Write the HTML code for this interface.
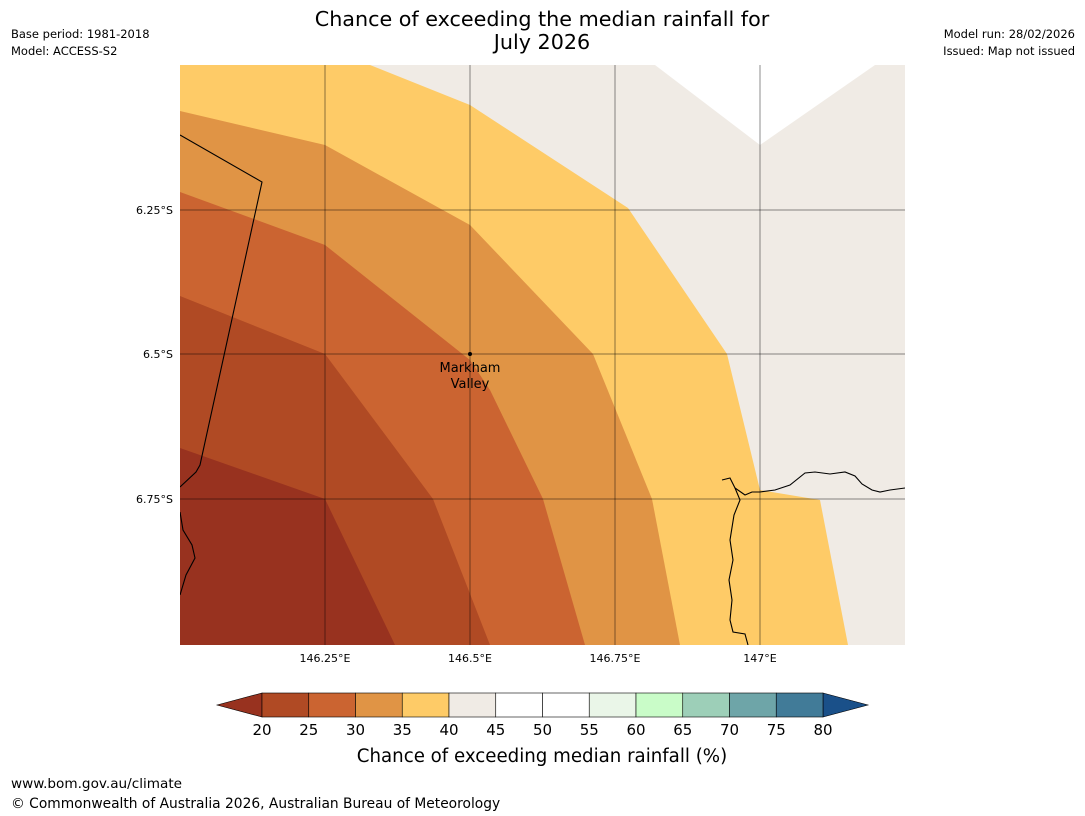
<!DOCTYPE html>
<html><head><meta charset="utf-8"><style>
body{margin:0;background:#fff;width:1085px;height:816px;overflow:hidden;font-family:"Liberation Sans","DejaVu Sans",sans-serif}
svg{position:absolute;left:0;top:0}
</style></head><body>
<svg width="1085" height="816" font-family="DejaVu Sans, Liberation Sans, sans-serif">
<text x="542" y="26" font-size="20.7" text-anchor="middle">Chance of exceeding the median rainfall for</text>
<text x="542" y="49" font-size="20.7" text-anchor="middle">July 2026</text>
<text x="11" y="38" font-size="11.5">Base period: 1981-2018</text>
<text x="11" y="55" font-size="11.5">Model: ACCESS-S2</text>
<text x="1075" y="38" font-size="11.5" text-anchor="end">Model run: 28/02/2026</text>
<text x="1075" y="55" font-size="11.5" text-anchor="end">Issued: Map not issued</text>
<defs><clipPath id="mc"><rect x="180" y="65" width="725" height="580"/></clipPath></defs>
<g clip-path="url(#mc)">
<rect x="180" y="65" width="725" height="580" fill="#f0ebe5"/>
<polygon points="655,65 760,145 875,65" fill="#fff"/>
<polygon points="170,65 370,65 470,105 628,208 727,354 760,490 820,500 848,645 170,645" fill="#fecb67"/>
<polygon points="170,109 180,111 325,145 470,225 593,354 652,499 680,645 170,645" fill="#e09445"/>
<polygon points="170,189 180,192 325,245 470,360 490,390 543,499 585,645 170,645" fill="#cb6431"/>
<polygon points="170,292 180,296 325,354 433,499 490,645 170,645" fill="#b04a24"/>
<polygon points="170,445 180,448 325,499 395,645 170,645" fill="#98321f"/>
<g stroke="#000" stroke-opacity="0.45" stroke-width="1">
<line x1="325" y1="65" x2="325" y2="645"/><line x1="470" y1="65" x2="470" y2="645"/><line x1="615" y1="65" x2="615" y2="645"/><line x1="760" y1="65" x2="760" y2="645"/>
<line x1="180" y1="210" x2="905" y2="210"/><line x1="180" y1="354" x2="905" y2="354"/><line x1="180" y1="499" x2="905" y2="499"/>
</g>
<g fill="none" stroke="#000" stroke-width="1.1">
<polyline points="180,135 262,182 200,465 196,472 180,487"/>
<polyline points="180,512 183,530 192,545 195,558 186,575 180,595"/>
<polyline points="722,480 730,478 735,488 745,495 752,492 760,492 775,490 790,485 805,473 815,472 830,474 845,472 855,476 862,484 872,490 880,492 890,490 905,488"/>
<polyline points="735,488 740,500 734,515 730,540 733,560 729,580 732,600 730,620 733,632 745,634 748,645"/>
</g>
<circle cx="470" cy="354" r="2" fill="#000"/>
<text x="470" y="372" font-size="13" text-anchor="middle">Markham</text>
<text x="470" y="388" font-size="13" text-anchor="middle">Valley</text>
</g>
<g font-size="11">
<text x="173" y="214" text-anchor="end">6.25°S</text>
<text x="173" y="358" text-anchor="end">6.5°S</text>
<text x="173" y="503" text-anchor="end">6.75°S</text>
<text x="325" y="662" text-anchor="middle">146.25°E</text>
<text x="470" y="662" text-anchor="middle">146.5°E</text>
<text x="615" y="662" text-anchor="middle">146.75°E</text>
<text x="760" y="662" text-anchor="middle">147°E</text>
</g>
<g stroke="#000" stroke-width="0.6">
<polygon points="217,705 262,693 262,717" fill="#98321f"/>
<polygon points="823,693 868,705 823,717" fill="#1a5089"/>
<rect x="262.0" y="693" width="46.75" height="24" fill="#b04a24"/>
<rect x="308.75" y="693" width="46.75" height="24" fill="#cb6431"/>
<rect x="355.5" y="693" width="46.75" height="24" fill="#e09445"/>
<rect x="402.25" y="693" width="46.75" height="24" fill="#fecb67"/>
<rect x="449" y="693" width="46.75" height="24" fill="#f0ebe5"/>
<rect x="495.75" y="693" width="46.75" height="24" fill="#fff"/>
<rect x="542.5" y="693" width="46.75" height="24" fill="#fff"/>
<rect x="589.25" y="693" width="46.75" height="24" fill="#eaf6e8"/>
<rect x="636" y="693" width="46.75" height="24" fill="#c9fcc8"/>
<rect x="682.75" y="693" width="46.75" height="24" fill="#9dcfb8"/>
<rect x="729.5" y="693" width="46.75" height="24" fill="#6ea5a8"/>
<rect x="776.25" y="693" width="46.75" height="24" fill="#417b98"/>
</g>
<g font-size="15" text-anchor="middle">
<text x="262" y="735">20</text><text x="308.75" y="735">25</text><text x="355.5" y="735">30</text><text x="402.25" y="735">35</text><text x="449" y="735">40</text><text x="495.75" y="735">45</text><text x="542.5" y="735">50</text><text x="589.25" y="735">55</text><text x="636" y="735">60</text><text x="682.75" y="735">65</text><text x="729.5" y="735">70</text><text x="776.25" y="735">75</text><text x="823" y="735">80</text>
</g>
<text x="542" y="762" font-size="18.2" text-anchor="middle">Chance of exceeding median rainfall (%)</text>
<text x="11" y="788" font-size="13.6">www.bom.gov.au/climate</text>
<text x="11" y="808" font-size="13.8">© Commonwealth of Australia 2026, Australian Bureau of Meteorology</text>
</svg>
</body></html>
